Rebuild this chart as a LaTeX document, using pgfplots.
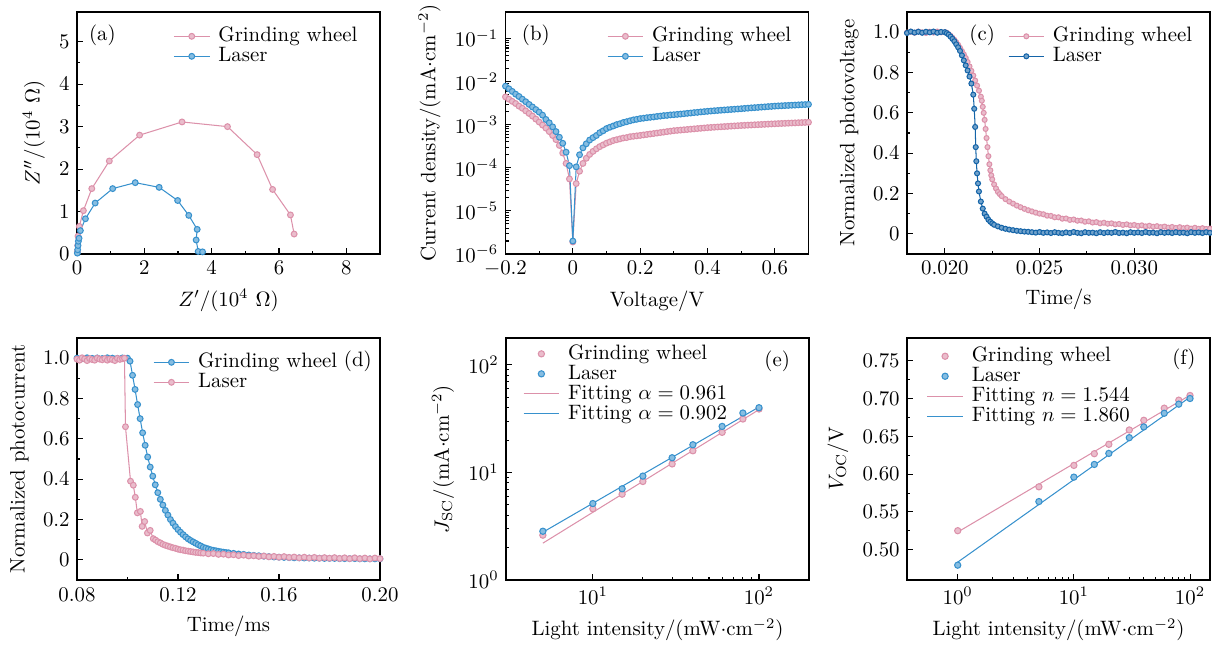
\documentclass[border=0pt]{standalone}
\usepackage{pgfplots}
\pgfplotsset{compat=1.18}
\definecolor{pk}{RGB}{220,145,170}
\definecolor{bl}{RGB}{55,145,205}
\definecolor{db}{RGB}{20,100,168}

\pgfplotsset{
  panel/.style={
    scale only axis, width=145.44pt, height=116.16pt, anchor=south west,
    axis line style={line width=0.6pt},
    tick pos=left, tick align=inside,
    major tick length=2.8pt, minor tick length=1.6pt,
    every tick/.style={black, line width=0.5pt},
    legend cell align=left,
    legend style={draw=none, fill=none, anchor=north west, inner sep=0pt,
      row sep=0.6pt, column sep=4pt,
      nodes={inner sep=0pt, text height=7pt, text depth=2pt}},
  },
  pkm/.style={color=pk, line width=0.5pt, mark=*, mark size=1.4pt,
    mark options={draw=pk, fill=pk!60!white}},
  blm/.style={color=bl, line width=0.5pt, mark=*, mark size=1.4pt,
    mark options={draw=bl, fill=bl!60!white}},
  dbm/.style={color=db, line width=0.5pt, mark=*, mark size=1.2pt,
    mark options={draw=db, fill=db!60!white}},
  pks/.style={color=pk, line width=0.5pt, mark=*, mark size=1.2pt,
    mark options={draw=pk, fill=pk!60!white}},
}

\begin{document}
\begin{tikzpicture}
\useasboundingbox (0,0) rectangle (581.76pt,310.08pt);

% (a) Nyquist
\begin{axis}[panel, at={(36.96pt,188.16pt)},
  xmin=0, xmax=9, ymin=0, ymax=5.7,
  xtick={0,2,4,6,8}, ytick={0,1,2,3,4,5}, minor tick num=1,
  xlabel={$Z'/(10^4\ \Omega)$}, ylabel={$Z''/(10^4\ \Omega)$},
  legend style={at={(0.317,0.94)}}]
\addplot[pkm] table {
x y
0.01 0.05
0.02 0.20
0.03 0.42
0.07 0.65
0.19 1.02
0.44 1.54
0.96 2.19
1.86 2.80
3.12 3.11
4.47 3.00
5.35 2.34
5.81 1.52
6.34 0.92
6.45 0.47
};
\addplot[blm] table {
x y
0.01 0.02
0.02 0.10
0.03 0.20
0.04 0.30
0.06 0.37
0.10 0.55
0.25 0.83
0.54 1.20
1.06 1.54
1.73 1.68
2.44 1.57
2.99 1.26
3.32 0.91
3.57 0.58
3.54 0.33
3.60 0.06
3.73 0.05
};
\legend{Grinding wheel, Laser}
\node at (rel axis cs:0.084,0.905) {(a)};
\end{axis}

% (b) dark J-V
\begin{axis}[panel, at={(242.64pt,188.16pt)},
  xmin=-0.2, xmax=0.7, ymode=log, ymin=1e-6, ymax=0.41,
  xtick={-0.2,0,0.2,0.4,0.6}, minor x tick num=1,
  ytick={1e-6,1e-5,1e-4,1e-3,1e-2,1e-1},
  xlabel={Voltage/V}, ylabel={Current density/(mA$\cdot$cm$^{-2}$)},
  legend style={at={(0.334,0.94)}}]
\addplot[pkm] table {
V J
-0.20 4.4e-3
-0.19 3.9e-3
-0.18 3.47e-3
-0.17 3.09e-3
-0.16 2.69e-3
-0.15 2.40e-3
-0.14 2.09e-3
-0.13 1.82e-3
-0.12 1.58e-3
-0.11 1.35e-3
-0.10 1.15e-3
-0.09 9.8e-4
-0.08 8.3e-4
-0.07 6.9e-4
-0.06 5.6e-4
-0.05 4.5e-4
-0.04 3.3e-4
-0.03 2.2e-4
-0.02 1.26e-4
-0.01 5.5e-5
0.00 1.9e-6
0.01 4.3e-5
0.02 8.3e-5
0.03 1.26e-4
0.04 1.66e-4
0.05 2.04e-4
0.06 2.4e-4
0.07 2.75e-4
0.08 3.09e-4
0.09 3.39e-4
0.10 3.72e-4
0.11 3.98e-4
0.12 4.27e-4
0.13 4.47e-4
0.14 4.68e-4
0.15 4.90e-4
0.16 5.01e-4
0.17 5.25e-4
0.18 5.37e-4
0.19 5.50e-4
0.20 5.62e-4
0.21 5.77e-4
0.22 5.92e-4
0.23 6.07e-4
0.24 6.22e-4
0.25 6.38e-4
0.26 6.55e-4
0.27 6.71e-4
0.28 6.89e-4
0.29 7.06e-4
0.30 7.24e-4
0.31 7.36e-4
0.32 7.48e-4
0.33 7.60e-4
0.34 7.72e-4
0.35 7.85e-4
0.36 7.98e-4
0.37 8.11e-4
0.38 8.24e-4
0.39 8.37e-4
0.40 8.51e-4
0.41 8.61e-4
0.42 8.71e-4
0.43 8.82e-4
0.44 8.92e-4
0.45 9.02e-4
0.46 9.12e-4
0.47 9.23e-4
0.48 9.33e-4
0.49 9.44e-4
0.50 9.55e-4
0.51 9.64e-4
0.52 9.73e-4
0.53 9.82e-4
0.54 9.91e-4
0.55 1.000e-3
0.56 1.009e-3
0.57 1.019e-3
0.58 1.028e-3
0.59 1.038e-3
0.60 1.047e-3
0.61 1.056e-3
0.62 1.065e-3
0.63 1.073e-3
0.64 1.082e-3
0.65 1.091e-3
0.66 1.099e-3
0.67 1.108e-3
0.68 1.117e-3
0.69 1.126e-3
0.70 1.135e-3
};
\addplot[blm] table {
V J
-0.20 7.8e-3
-0.19 6.8e-3
-0.18 5.9e-3
-0.17 5.1e-3
-0.16 4.5e-3
-0.15 3.9e-3
-0.14 3.4e-3
-0.13 2.95e-3
-0.12 2.57e-3
-0.11 2.24e-3
-0.10 1.95e-3
-0.09 1.66e-3
-0.08 1.32e-3
-0.07 1.10e-3
-0.06 8.9e-4
-0.05 6.9e-4
-0.04 5.1e-4
-0.03 3.7e-4
-0.02 2.3e-4
-0.01 1.12e-4
0.00 2.0e-6
0.01 1.05e-4
0.02 2.0e-4
0.03 2.9e-4
0.04 3.6e-4
0.05 4.4e-4
0.06 5.0e-4
0.07 5.6e-4
0.08 6.5e-4
0.09 7.2e-4
0.10 8.1e-4
0.11 8.7e-4
0.12 9.3e-4
0.13 1.00e-3
0.14 1.05e-3
0.15 1.12e-3
0.16 1.17e-3
0.17 1.23e-3
0.18 1.29e-3
0.19 1.33e-3
0.20 1.38e-3
0.21 1.41e-3
0.22 1.45e-3
0.23 1.48e-3
0.24 1.51e-3
0.25 1.55e-3
0.26 1.58e-3
0.27 1.62e-3
0.28 1.64e-3
0.29 1.68e-3
0.30 1.70e-3
0.31 1.73e-3
0.32 1.76e-3
0.33 1.79e-3
0.34 1.83e-3
0.35 1.86e-3
0.36 1.90e-3
0.37 1.93e-3
0.38 1.97e-3
0.39 2.00e-3
0.40 2.04e-3
0.41 2.07e-3
0.42 2.10e-3
0.43 2.13e-3
0.44 2.16e-3
0.45 2.19e-3
0.46 2.22e-3
0.47 2.25e-3
0.48 2.28e-3
0.49 2.31e-3
0.50 2.34e-3
0.51 2.38e-3
0.52 2.41e-3
0.53 2.45e-3
0.54 2.48e-3
0.55 2.51e-3
0.56 2.55e-3
0.57 2.58e-3
0.58 2.62e-3
0.59 2.65e-3
0.60 2.69e-3
0.61 2.72e-3
0.62 2.74e-3
0.63 2.77e-3
0.64 2.79e-3
0.65 2.82e-3
0.66 2.84e-3
0.67 2.87e-3
0.68 2.90e-3
0.69 2.92e-3
0.70 2.95e-3
};
\legend{Grinding wheel, Laser}
\node at (rel axis cs:0.10,0.905) {(b)};
\end{axis}

% (c) photovoltage decay
\begin{axis}[panel, at={(435.36pt,188.16pt)},
  xmin=0.018, xmax=0.034, ymin=-0.1, ymax=1.1,
  xtick={0.020,0.025,0.030}, minor tick num=1, scaled x ticks=false,
  xticklabel style={/pgf/number format/.cd, fixed, fixed zerofill, precision=3},
  ytick={0,0.2,0.4,0.6,0.8,1.0}, yticklabels={0,0.2,0.4,0.6,0.8,1.0},
  xlabel={Time/s}, ylabel={Normalized photovoltage},
  legend style={at={(0.332,0.94)}}]
\addplot[pks] table {
t v
0.0180 0.998
0.0182 1.002
0.0184 0.997
0.0186 1.003
0.0188 0.999
0.0190 0.996
0.0192 1.002
0.0194 0.998
0.0196 1.003
0.0198 0.999
0.0200 1.000
0.0201 0.997
0.0202 0.990
0.0203 0.982
0.0204 0.972
0.0205 0.962
0.0206 0.950
0.0207 0.937
0.0208 0.922
0.0209 0.906
0.0210 0.890
0.0211 0.872
0.0212 0.852
0.0213 0.830
0.0214 0.808
0.0215 0.785
0.0216 0.760
0.0217 0.735
0.0218 0.710
0.0219 0.680
0.02195 0.660
0.0220 0.630
0.02205 0.600
0.0221 0.565
0.02215 0.520
0.0222 0.475
0.02225 0.430
0.0223 0.385
0.02235 0.345
0.0224 0.315
0.02245 0.290
0.0225 0.270
0.0226 0.245
0.0227 0.225
0.0228 0.208
0.0229 0.197
0.0230 0.187
0.0232 0.172
0.0234 0.160
0.0236 0.150
0.0238 0.140
0.0240 0.132
0.0242 0.124
0.0244 0.117
0.0246 0.111
0.0248 0.105
0.0250 0.100
0.0252 0.097
0.0254 0.090
0.0256 0.089
0.0258 0.082
0.0260 0.082
0.0262 0.075
0.0264 0.076
0.0266 0.069
0.0268 0.071
0.0270 0.065
0.0272 0.066
0.0274 0.060
0.0276 0.062
0.0278 0.056
0.0280 0.058
0.0282 0.052
0.0284 0.055
0.0286 0.050
0.0288 0.052
0.0290 0.047
0.0292 0.049
0.0294 0.044
0.0296 0.047
0.0298 0.042
0.0300 0.044
0.0302 0.039
0.0304 0.042
0.0306 0.037
0.0308 0.040
0.0310 0.035
0.0312 0.038
0.0314 0.033
0.0316 0.036
0.0318 0.031
0.0320 0.034
0.0322 0.029
0.0324 0.033
0.0326 0.028
0.0328 0.031
0.0330 0.026
0.0332 0.030
0.0334 0.025
0.0336 0.028
0.0338 0.024
0.0340 0.026
};
\addplot[dbm] table {
t v
0.0180 0.996
0.0182 1.003
0.0184 0.998
0.0186 1.002
0.0188 0.997
0.0190 1.002
0.0192 0.999
0.0194 1.003
0.0196 0.997
0.0198 1.001
0.0200 1.000
0.0201 0.995
0.0202 0.988
0.0203 0.978
0.0204 0.967
0.0205 0.955
0.0206 0.940
0.0207 0.925
0.0208 0.907
0.0209 0.885
0.0210 0.860
0.0211 0.835
0.0212 0.810
0.0213 0.780
0.0214 0.745
0.0215 0.690
0.02155 0.620
0.0216 0.530
0.02163 0.430
0.02166 0.360
0.0217 0.300
0.02175 0.250
0.0218 0.210
0.0219 0.160
0.0220 0.125
0.0221 0.100
0.0222 0.085
0.0223 0.070
0.0224 0.060
0.0225 0.052
0.0226 0.045
0.0228 0.037
0.0230 0.030
0.0232 0.025
0.0234 0.021
0.0236 0.018
0.0238 0.015
0.0240 0.013
0.0242 0.011
0.0244 0.010
0.0246 0.008
0.0248 0.006
0.0250 0.009
0.0252 0.005
0.0254 0.007
0.0256 0.004
0.0258 0.008
0.0260 0.005
0.0262 0.003
0.0264 0.007
0.0266 0.004
0.0268 0.009
0.0270 0.005
0.0272 0.003
0.0274 0.008
0.0276 0.005
0.0278 0.006
0.0280 0.003
0.0282 0.008
0.0284 0.004
0.0286 0.007
0.0288 0.005
0.0290 0.009
0.0292 0.004
0.0294 0.006
0.0296 0.003
0.0298 0.008
0.0300 0.005
0.0302 0.007
0.0304 0.004
0.0306 0.009
0.0308 0.005
0.0310 0.006
0.0312 0.003
0.0314 0.008
0.0316 0.005
0.0318 0.007
0.0320 0.004
0.0322 0.008
0.0324 0.005
0.0326 0.006
0.0328 0.003
0.0330 0.008
0.0332 0.005
0.0334 0.007
0.0336 0.004
0.0338 0.008
0.0340 0.005
};
\legend{Grinding wheel, Laser}
\node at (rel axis cs:0.248,0.905) {(c)};
\end{axis}

% (d) photocurrent decay
\begin{axis}[panel, at={(36.96pt,31.68pt)},
  xmin=0.08, xmax=0.20, ymin=-0.1, ymax=1.1,
  xtick={0.08,0.12,0.16,0.20}, xticklabels={0.08,0.12,0.16,0.20},
  minor tick num=1,
  ytick={0,0.2,0.4,0.6,0.8,1.0}, yticklabels={0,0.2,0.4,0.6,0.8,1.0},
  xlabel={Time/ms}, ylabel={Normalized photocurrent},
  legend style={at={(0.25,0.94)}}]
\addplot[blm] table {
t i
0.080 1.000
0.082 0.998
0.084 1.002
0.086 0.999
0.088 1.001
0.090 0.998
0.092 1.002
0.094 1.000
0.096 0.999
0.098 1.001
0.100 1.000
0.101 0.985
0.102 0.915
0.103 0.845
0.104 0.770
0.105 0.700
0.106 0.630
0.107 0.568
0.108 0.510
0.109 0.460
0.110 0.415
0.111 0.372
0.112 0.333
0.113 0.300
0.114 0.272
0.115 0.245
0.116 0.222
0.117 0.200
0.118 0.182
0.119 0.165
0.120 0.150
0.121 0.137
0.122 0.125
0.123 0.114
0.124 0.104
0.125 0.096
0.126 0.089
0.127 0.082
0.128 0.075
0.129 0.069
0.130 0.062
0.131 0.058
0.132 0.054
0.133 0.050
0.134 0.047
0.135 0.045
0.136 0.042
0.137 0.040
0.138 0.038
0.139 0.036
0.140 0.035
0.142 0.032
0.144 0.029
0.146 0.027
0.148 0.024
0.150 0.022
0.152 0.020
0.154 0.018
0.156 0.016
0.158 0.014
0.160 0.013
0.162 0.012
0.164 0.011
0.166 0.010
0.168 0.010
0.170 0.009
0.172 0.009
0.174 0.008
0.176 0.008
0.178 0.007
0.180 0.007
0.182 0.007
0.184 0.006
0.186 0.006
0.188 0.006
0.190 0.006
0.192 0.005
0.194 0.005
0.196 0.005
0.198 0.005
0.200 0.005
};
\addplot[pkm] table {
t i
0.080 0.995
0.081 0.990
0.082 1.002
0.083 0.996
0.084 0.988
0.085 0.998
0.086 0.993
0.087 0.990
0.088 1.000
0.089 0.995
0.090 0.992
0.091 0.998
0.092 0.990
0.093 0.996
0.094 0.993
0.095 0.988
0.096 0.999
0.097 0.994
0.098 0.997
0.0988 1.000
0.0992 0.660
0.1012 0.390
0.1023 0.370
0.1031 0.310
0.1039 0.233
0.1051 0.240
0.1058 0.166
0.1068 0.190
0.1079 0.133
0.1090 0.146
0.1102 0.105
0.1111 0.098
0.1120 0.090
0.1130 0.084
0.1140 0.077
0.1150 0.072
0.1160 0.068
0.1170 0.064
0.1180 0.060
0.1190 0.057
0.1200 0.053
0.1210 0.050
0.1220 0.048
0.1230 0.045
0.1240 0.043
0.1250 0.041
0.1260 0.039
0.1270 0.037
0.1280 0.036
0.1290 0.034
0.1300 0.033
0.132 0.030
0.134 0.031
0.136 0.027
0.138 0.028
0.140 0.024
0.142 0.025
0.144 0.021
0.146 0.023
0.148 0.019
0.150 0.020
0.152 0.017
0.154 0.019
0.156 0.015
0.158 0.017
0.160 0.013
0.162 0.016
0.164 0.012
0.166 0.014
0.168 0.010
0.170 0.013
0.172 0.009
0.174 0.012
0.176 0.008
0.178 0.011
0.180 0.008
0.182 0.011
0.184 0.007
0.186 0.010
0.188 0.006
0.190 0.010
0.192 0.006
0.194 0.009
0.196 0.005
0.198 0.009
0.200 0.006
};
\legend{Grinding wheel, Laser}
\node at (rel axis cs:0.927,0.902) {(d)};
\end{axis}

% (e) Jsc vs light intensity
\begin{axis}[panel, at={(242.88pt,31.68pt)},
  xmode=log, ymode=log, xmin=3, xmax=200, ymin=1, ymax=178,
  xtick={10,100}, ytick={1,10,100},
  xlabel={Light intensity/(mW$\cdot$cm$^{-2}$)},
  ylabel={$J_{\mathrm{SC}}$/(mA$\cdot$cm$^{-2}$)},
  legend style={at={(0.055,0.975)}}]
\addplot[only marks, pkm, mark size=1.5pt] table {
x y
5 2.61
10 4.59
15 6.28
20 8.24
30 12.0
40 15.9
60 23.6
80 31.4
100 38.9
};
\addplot[only marks, blm, mark size=1.5pt] table {
x y
5 2.84
10 5.14
15 7.05
20 9.25
30 13.7
40 18.1
60 26.8
80 35.7
100 40.0
};
\addplot[pk, line width=0.5pt, no marks] table {
x y
5 2.2
100 38.4
};
\addplot[bl, line width=0.5pt, no marks] table {
x y
5 2.78
100 40.6
};
\legend{Grinding wheel, Laser, {Fitting $\alpha=0.961$}, {Fitting $\alpha=0.902$}}
\node at (rel axis cs:0.895,0.904) {(e)};
\end{axis}

% (f) Voc vs light intensity
\begin{axis}[panel, at={(435.36pt,31.68pt)},
  xmode=log, xmin=0.366, xmax=148.6, ymin=0.46, ymax=0.78,
  xtick={1,10,100}, ytick={0.50,0.55,0.60,0.65,0.70,0.75}, minor y tick num=1,
  yticklabel style={/pgf/number format/.cd, fixed, fixed zerofill, precision=2},
  xlabel={Light intensity/(mW$\cdot$cm$^{-2}$)},
  ylabel={$V_{\mathrm{OC}}$/V},
  legend style={at={(0.064,0.965)}}]
\addplot[only marks, pkm, mark size=1.5pt] table {
x y
1 0.5252
5 0.5832
10 0.6115
15 0.6270
20 0.6394
30 0.6584
40 0.6712
60 0.6872
80 0.6978
100 0.7040
};
\addplot[only marks, blm, mark size=1.5pt] table {
x y
1 0.4796
5 0.5637
10 0.5960
15 0.6128
20 0.6274
30 0.6482
40 0.6624
60 0.6805
80 0.6925
100 0.7000
};
\addplot[pk, line width=0.5pt, no marks] table {
x y
1 0.5234
100 0.7044
};
\addplot[bl, line width=0.5pt, no marks] table {
x y
1 0.4836
100 0.7018
};
\legend{Grinding wheel, Laser, {Fitting $n=1.544$}, {Fitting $n=1.860$}}
\node at (rel axis cs:0.914,0.91) {(f)};
\end{axis}
\end{tikzpicture}
\end{document}
